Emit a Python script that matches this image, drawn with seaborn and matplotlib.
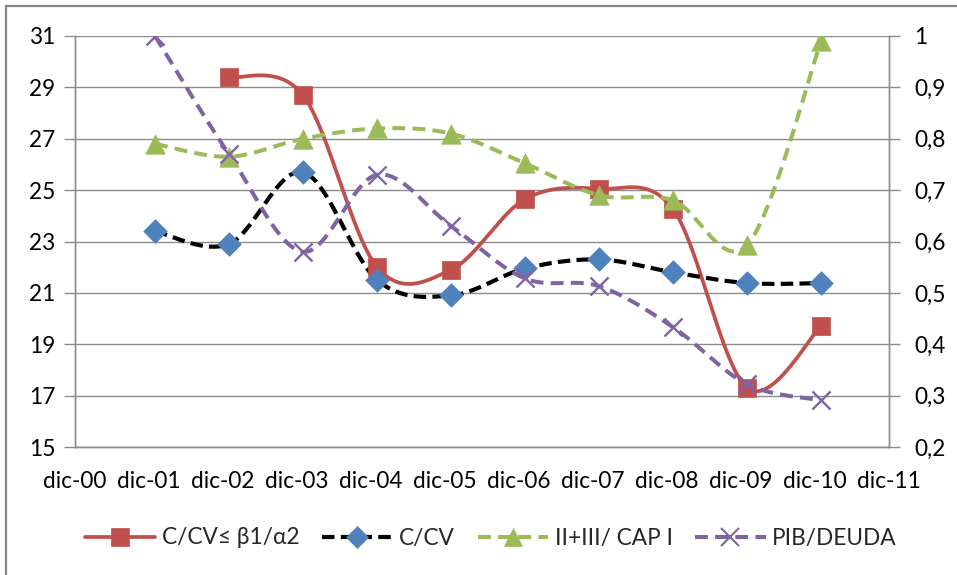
import numpy as np
import pandas as pd
import matplotlib
matplotlib.use("Agg")
import matplotlib.pyplot as plt
import matplotlib.dates as mdates
from matplotlib.lines import Line2D
from matplotlib.patches import Rectangle
import seaborn as sns

# ---- data -------------------------------------------------------------
years = list(range(2001, 2011))                       # dic-01 .. dic-10
tick_years = list(range(2000, 2012))                  # dic-00 .. dic-11
tick_labels = [f"dic-{y % 100:02d}" for y in tick_years]

ccv_beta = [np.nan, 29.4, 28.7, 22.0, 21.9, 24.65, 25.05, 24.25, 17.3, 19.7]
ccv = [23.4, 22.9, 25.7, 21.5, 20.9, 21.95, 22.3, 21.8, 21.38, 21.38]
cap = [0.79, 0.765, 0.80, 0.82, 0.81, 0.752, 0.69, 0.68, 0.593, 0.99]
pib_deuda = [1.00, 0.77, 0.58, 0.73, 0.63, 0.528, 0.513, 0.433, 0.322, 0.291]

names = ["C/CV\u2264 \u03b21/\u03b12", "C/CV", "II+III/ CAP I", "PIB/DEUDA"]

# ---- style ------------------------------------------------------------
sns.set_style("white")
plt.rcParams["font.family"] = ["Lato", "DejaVu Sans"]
FS = 16.3
GRID = "#8c8c8c"

RED, BLUE, GREEN, PURPLE = "#C0504D", "#4F81BD", "#9BBB59", "#8064A2"


def smooth(x, y, n=40):
    """Bezier smoothing through the points (Excel-style smoothed line)."""
    x = np.asarray(x, float)
    y = np.asarray(y, float)
    P = np.column_stack([x, y])
    out = []
    m = len(P)
    for i in range(m - 1):
        p0 = P[i - 1] if i > 0 else P[i]
        p1, p2 = P[i], P[i + 1]
        p3 = P[i + 2] if i + 2 < m else P[i + 1]
        c1 = p1 + (p2 - p0) / 6.0
        c2 = p2 - (p3 - p1) / 6.0
        t = np.linspace(0, 1, n)[:, None]
        seg = ((1 - t) ** 3) * p1 + 3 * ((1 - t) ** 2) * t * c1 \
            + 3 * (1 - t) * t ** 2 * c2 + t ** 3 * p2
        out.append(seg if i == 0 else seg[1:])
    s = np.vstack(out)
    return s[:, 0], s[:, 1]


xdates = mdates.date2num(pd.to_datetime([f"{y}-12-31" for y in years]))
xticks = mdates.date2num(pd.to_datetime([f"{y}-12-01" for y in tick_years]))

fig = plt.figure(figsize=(9.57, 5.75), dpi=100)
ax = fig.add_axes([75 / 957, 1 - 447 / 575, (889 - 75) / 957, (447 - 36) / 575])
ax2 = ax.twinx()

# axis, values, line colour, line style, line width, marker, marker colour, marker size
series = [
    (ax, ccv_beta, RED, "-", 2.7, "s", RED, 13),
    (ax, ccv, "black", (0, (3.0, 1.5)), 3.0, "D", BLUE, 12),
    (ax2, cap, GREEN, (0, (3.2, 1.8)), 2.9, "^", GREEN, 14),
    (ax2, pib_deuda, PURPLE, (0, (3.2, 1.8)), 2.9, "x", PURPLE, 13),
]

handles = []
for a, vals, lc, ls, lw, mk, mc, ms in series:
    v = np.asarray(vals, float)
    ok = ~np.isnan(v)
    sx, sy = smooth(xdates[ok], v[ok])
    sns.lineplot(x=sx, y=sy, ax=a, color=lc, linewidth=lw, linestyle=ls,
                 sort=False, estimator=None, legend=False, zorder=3)
    if mk == "x":
        sns.scatterplot(x=xdates[ok], y=v[ok], ax=a, marker="x", s=ms ** 2,
                        color=mc, linewidth=1.7, zorder=4, legend=False)
    else:
        sns.scatterplot(x=xdates[ok], y=v[ok], ax=a, marker=mk, s=ms ** 2,
                        color=mc, edgecolor=mc, linewidth=0.5, zorder=4,
                        legend=False)
    handles.append(Line2D([0], [0], color=lc, linewidth=lw, linestyle=ls,
                          marker=mk, markersize=ms * 0.95, markerfacecolor=mc,
                          markeredgecolor=mc,
                          markeredgewidth=1.5 if mk == "x" else 0.5))

# ---- axes -------------------------------------------------------------
ax.set_xlim(xticks[0], xticks[-1])
ax.set_ylim(15, 31)
ax.set_yticks(np.arange(15, 32, 2))
rticks = np.round(np.arange(0.2, 1.01, 0.1), 1)
ax2.set_ylim(0.2, 1.0)
ax2.set_yticks(rticks)
ax2.set_yticklabels([f"{t:g}".replace(".", ",") for t in rticks])

ax.set_xticks(xticks)
ax.set_xticklabels(tick_labels)

ax.grid(axis="y", color=GRID, linewidth=1.0)
ax.set_axisbelow(True)
for a in (ax, ax2):
    a.spines["top"].set_visible(False)
    for side in ("left", "right", "bottom"):
        a.spines[side].set_color(GRID)
        a.spines[side].set_linewidth(1.0)
    a.tick_params(labelsize=FS, colors="black")
ax.tick_params(axis="y", length=8, width=1, color=GRID, direction="out", pad=6)
ax.tick_params(axis="x", length=8, width=1, color=GRID, direction="out", pad=9)
ax2.tick_params(axis="y", length=8, width=1, color=GRID, direction="out", pad=10)
ax.set_xlabel("")
ax.set_ylabel("")
ax2.set_ylabel("")

fig.legend(handles, names, loc="center", bbox_to_anchor=(491 / 957, 1 - 538 / 575),
           ncol=4, frameon=False, fontsize=FS, handlelength=3.1,
           handletextpad=0.3, columnspacing=1.0)

# outer chart frame
fig.patches.append(Rectangle((6 / 957, -0.2), 1.2, 1.2 - 6 / 575,
                             transform=fig.transFigure, fill=False,
                             edgecolor="#868686", linewidth=1.6))

fig.savefig("out.png", dpi=100)
